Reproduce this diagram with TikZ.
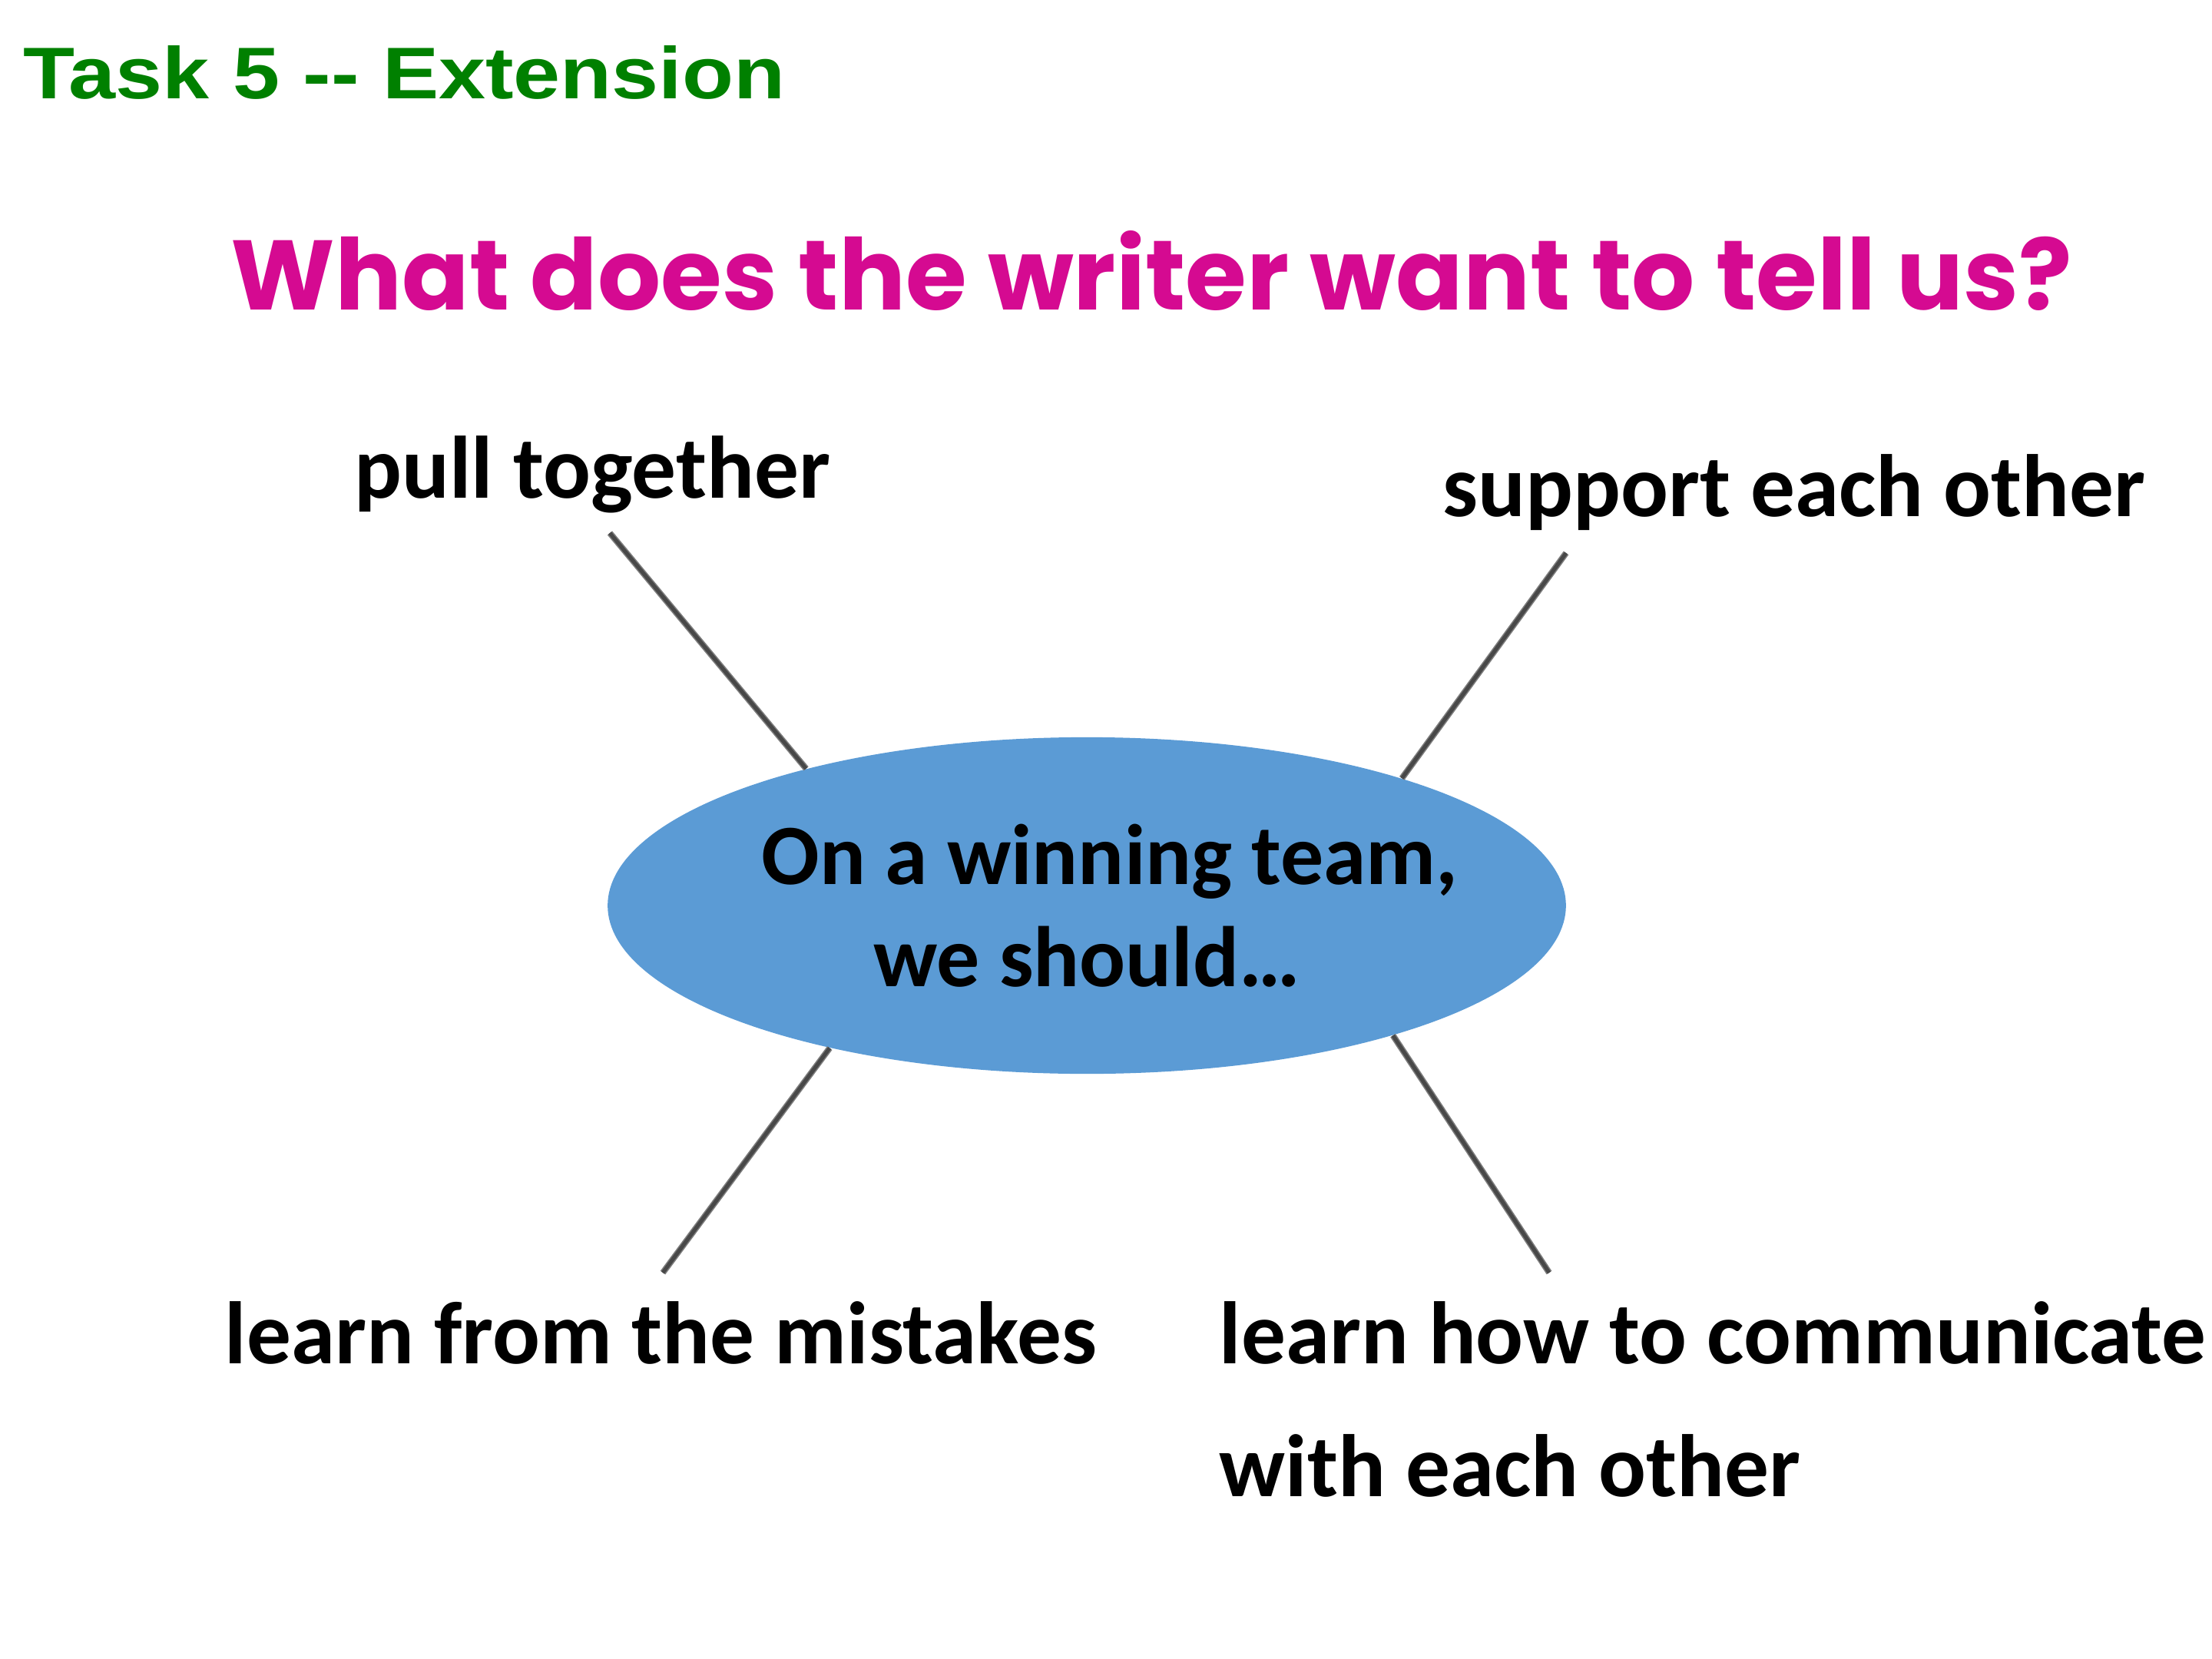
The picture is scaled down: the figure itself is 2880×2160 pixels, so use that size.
\documentclass[tikz,border=0pt]{standalone}
\usepackage{fontspec}
\usepackage{graphicx}
\usetikzlibrary{shapes.geometric,positioning}
\setmainfont{Carlito}
\newfontfamily\taskfont{Liberation Sans}
\newfontfamily\askfont{Poppins}
\definecolor{taskgreen}{RGB}{0,128,0}
\definecolor{askpink}{RGB}{213,10,145}
\definecolor{hubblue}{RGB}{91,155,213}
\definecolor{spokegray}{RGB}{72,72,72}
\definecolor{spokeedge}{RGB}{125,125,125}
\tikzset{
    %Define style for the task heading
    task/.style={
           anchor=base west,
           inner sep=0pt,
           text=taskgreen,
           font=\taskfont\bfseries},
    %Define style for the question
    ask/.style={
           anchor=base west,
           inner sep=0pt,
           text=askpink,
           font=\askfont\bfseries},
    %Define style for the centre ellipse
    hub/.style={
           ellipse,
           fill=hubblue,
           inner xsep=-0.6cm,
           inner ysep=0pt,
           minimum width=12.47cm,
           minimum height=4.38cm,
           align=center,
           font=\bfseries\fontsize{31.8}{37.8}\selectfont},
    %Define style for the answers
    idea/.style={
           anchor=base west,
           inner sep=0pt,
           font=\bfseries\fontsize{32.8}{40}\selectfont},
    % Define line style
    spoke/.style={
           draw=spokeedge,
           double=spokegray,
           double distance=1.4pt,
           line width=0.45pt}
}
\begin{document}
\begin{tikzpicture}[x=0.01cm,y=-0.01cm]
\fill[white] (0,0) rectangle (2880,2160);
\useasboundingbox (0,0) rectangle (2880,2160);
\node[task](task) at (30,128){\resizebox{9.91cm}{0.69cm}{Task 5 -{}- Extension}};
\node[ask](ask) at (300,403){\resizebox{23.96cm}{1.03cm}{What does the writer want to tell us?}};
\node[hub](team) at (1415,1179){\hspace{0.6cm}On a winning team,\\we should\ldots};
\node[idea](pull) at (461,648){pull together};
\node[idea](support) at (1878,672){support each other};
\node[idea](mistakes) at (292,1775){learn from the mistakes};
\node[idea](talk) at (1587,1775){learn how to communicate};
\node[idea](talkmore) at ([yshift=-1.73cm]talk.base west){with each other};
\coordinate (pullend) at (794,694);
\coordinate (supportend) at (2039,720);
\coordinate (mistakesend) at (863,1657);
\coordinate (talkend) at (2017,1657);
\draw[spoke] (team.154.4) -- (pullend);
\draw[spoke] (team.22.8) -- (supportend);
\draw[spoke] (team.209.6) -- (mistakesend);
\draw[spoke] (team.337.9) -- (talkend);
\end{tikzpicture}
\end{document}
